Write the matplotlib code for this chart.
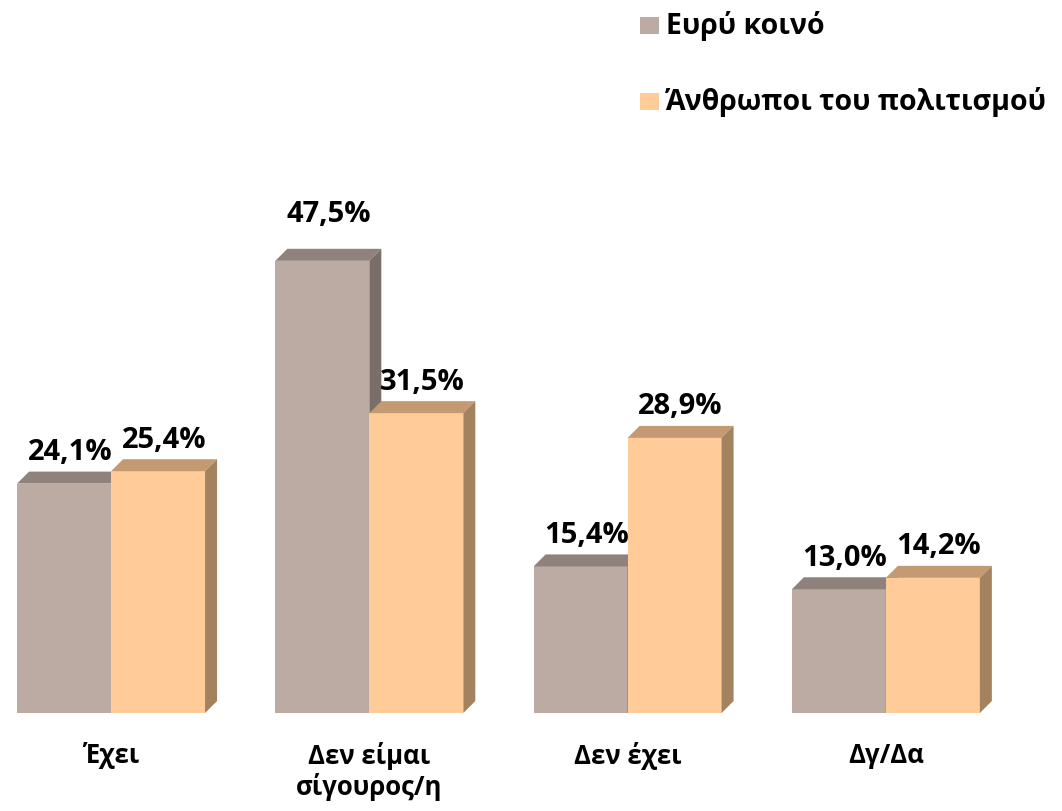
import numpy as np
import matplotlib
matplotlib.use('agg')
from matplotlib import pyplot as plt
from matplotlib.patches import Polygon

plt.rcParams['font.family'] = ['Open Sans', 'Noto Sans', 'DejaVu Sans']

categories = ['Έχει', 'Δεν είμαι\nσίγουρος/η', 'Δεν έχει', 'Δγ/Δα']
series_names = ['Ευρύ κοινό', 'Άνθρωποι του πολιτισμού']
public = [24.1, 47.5, 15.4, 13.0]
culture = [25.4, 31.5, 28.9, 14.2]

# front, top, side colours per series
colors = [('#bcaba3', '#8f817c', '#796e69'),
          ('#ffcc99', '#c49a72', '#a3825f')]

fig = plt.figure(figsize=(10.62, 8.12), dpi=100)
ax = fig.add_axes([0, 0, 1, 1])
ax.set_xlim(-0.43, 3.682)
ax.set_ylim(-10.29, 75.0)
ax.axis('off')

px_x = 258.3   # px per x unit
px_y = 9.52    # px per %
w = 94 / px_x
dx = 12 / px_x
dy = 12 / px_y

x = np.arange(len(categories))
for i, vals in enumerate([public, culture]):
    front, top, side = colors[i]
    lefts = x - w + i * w
    ax.bar(lefts, vals, width=w, align='edge', color=front, zorder=2 + i)
    for xl, v in zip(lefts, vals):
        xr = xl + w
        ax.add_patch(Polygon([(xl, v), (xr, v), (xr + dx, v + dy), (xl + dx, v + dy)],
                             closed=True, color=top, lw=0, zorder=2 + i))
        ax.add_patch(Polygon([(xr, 0), (xr + dx, dy), (xr + dx, v + dy), (xr, v)],
                             closed=True, color=side, lw=0, zorder=2 + i))
        off = 47 if v > 40 else 32
        ax.text(xl + w / 2 + dx / 2, v + off / px_y, f'{v:.1f}%'.replace('.', ','),
                ha='center', va='center', fontsize=21, fontweight='bold', zorder=5)

for xi, cat in zip(x, categories):
    ax.text(xi, -28 / px_y, cat, ha='center', va='top',
            fontsize=18.5, fontweight='bold', linespacing=1.15)

# legend
for j, name in enumerate(series_names):
    yy = 75.0 - (26 + 76 * j) / px_y
    ax.add_patch(Polygon([(-0.43 + 640 / px_x, yy - 8.5 / px_y), (-0.43 + 659 / px_x, yy - 8.5 / px_y),
                          (-0.43 + 659 / px_x, yy + 8.5 / px_y), (-0.43 + 640 / px_x, yy + 8.5 / px_y)],
                         closed=True, color=colors[j][0], lw=0))
    ax.text(-0.43 + 666 / px_x, yy, name, ha='left', va='center',
            fontsize=20.5, fontweight='bold')

plt.savefig('out.png', dpi=100)
